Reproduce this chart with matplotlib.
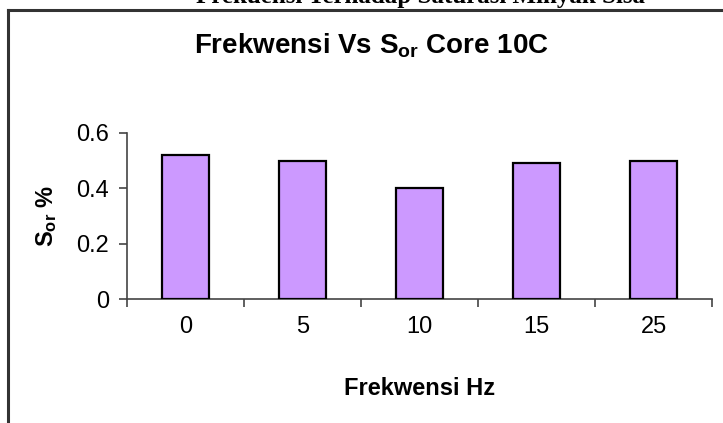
import numpy as np
import matplotlib
matplotlib.use("Agg")
import matplotlib.pyplot as plt
from matplotlib.lines import Line2D

# data
frekwensi = ["0", "5", "10", "15", "25"]
sor = [0.52, 0.50, 0.40, 0.49, 0.50]
y_ticks = [0, 0.2, 0.4, 0.6]
y_tick_labels = ["0", "0.2", "0.4", "0.6"]

plt.rcParams['font.family'] = ['Liberation Sans', 'DejaVu Sans']
plt.rcParams['mathtext.fontset'] = 'custom'
plt.rcParams['mathtext.rm'] = 'Liberation Sans'
plt.rcParams['mathtext.bf'] = 'Liberation Sans:bold'

W, H = 723, 423
fig = plt.figure(figsize=(W/100, H/100), dpi=100)
ax = fig.add_axes([127/W, 1-299/H, (712-127)/W, (299-133)/H])

x = np.arange(len(frekwensi))
ax.bar(x, sor, width=0.4, color="#CC99FF", edgecolor="black", linewidth=1.6, zorder=3)

ax.set_xlim(-0.5, len(frekwensi) - 0.5)
ax.set_ylim(0, 0.6)
ax.set_yticks(y_ticks)
ax.set_yticklabels(y_tick_labels)
ax.set_xticks(x)
ax.set_xticklabels(frekwensi)
ax.set_xticks(np.arange(len(frekwensi) + 1) - 0.5, minor=True)
ax.tick_params(axis="x", which="major", length=0, pad=12, labelsize=17)
ax.tick_params(axis="x", which="minor", length=6, width=1.2, color="#444444")
ax.tick_params(axis="y", length=6, width=1.2, color="#444444", pad=7, labelsize=17)

for s in ["top", "right"]:
    ax.spines[s].set_visible(False)
for s in ["left", "bottom"]:
    ax.spines[s].set_color("#444444")
    ax.spines[s].set_linewidth(1.2)

# title (offset to the left in the original)
fig.text(371/W, 1-54/H, "Frekwensi Vs $\\mathbf{S_{or}}$ Core 10C", fontsize=20,
         fontweight="bold", ha="center", va="baseline")
fig.text(420/W, 1-395/H, "Frekwensi Hz", fontsize=17, fontweight="bold",
         ha="center", va="baseline")
fig.text(47/W, 1-216/H, "$\\mathbf{S_{or}}$ %", fontsize=17, fontweight="bold",
         rotation=90, ha="center", va="center")

# page frame and cut-off heading from the document
fig.add_artist(Line2D([8/W, 8/W], [0, 1-10/H], color="#333333", lw=2.2))
fig.add_artist(Line2D([8/W, 1], [1-10/H, 1-10/H], color="#333333", lw=2.2))
fig.text(420/W, 1-3/H, "Frekuensi Terhadap Saturasi Minyak Sisa", family="Liberation Serif",
         fontsize=18, fontweight="bold", ha="center", va="baseline")

fig.savefig("out.png", dpi=100)
